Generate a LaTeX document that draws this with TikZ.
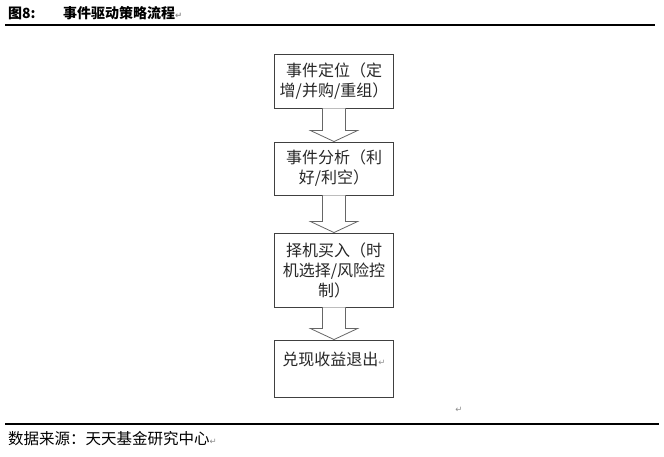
\documentclass[tikz,border=0pt]{standalone}
\usepackage{fontspec}
\newfontfamily\cjk{Noto Sans CJK SC}
\newfontfamily\symb{DejaVu Sans}
\usetikzlibrary{calc}
\newcommand{\retmark}{{\symb\fontsize{8.5}{8.5}\selectfont\textcolor{black!45}{↵}}}
\tikzset{
  stepbox/.style={draw=black!75,line width=0.9pt,minimum width=119,align=center,inner sep=0pt,
    font=\cjk\fontsize{16}{20}\selectfont,text=black!85},
  blockarrow/.style={draw=black!60,line width=0.8pt,fill=white},
  rule/.style={line width=1.1pt},
  caption/.style={anchor=west,inner sep=0pt}
}
\begin{document}
\begin{tikzpicture}[x=1pt,y=1pt]
    \useasboundingbox (0,0) rectangle (664,456);

    \node[caption,font=\cjk\bfseries\fontsize{14}{14}\selectfont] (fig) at (8,443) {图8:};
    \node[caption,font=\cjk\bfseries\fontsize{14}{14}\selectfont] (title) at (63,443) {事件驱动策略流程\retmark};
    \coordinate (tl) at (5,431);
    \coordinate (tr) at (655,431);
    \draw[rule] (tl) -- (tr);

    \node[stepbox,minimum height=54] (dw) at (334,375) {事件定位（定\\增/并购/重组）};
    \node[stepbox,minimum height=53] (fx) at (334,287.5) {事件分析（利\\好/利空）};
    \node[stepbox,minimum height=74] (zs) at (334,186) {择机买入（时\\机选择/风险控\\制）};
    \node[stepbox,minimum height=57] (dx) at (334,87.5) {兑现收益退出\retmark\\\mbox{}};

    \foreach \a/\b in {dw/fx,fx/zs,zs/dx}
        \draw[blockarrow] ($(\a.south)+(-11.5,0)$) -- ($(\b.north)+(-11.5,11)$) -- ($(\b.north)+(-23.5,11)$)
            -- (\b.north) -- ($(\b.north)+(23.5,11)$) -- ($(\b.north)+(11.5,11)$) -- ($(\a.south)+(11.5,0)$);

    \node[inner sep=0pt] (pm) at (459,46) {\retmark};

    \coordinate (bl) at (5,32);
    \coordinate (br) at (659,32);
    \draw[rule] (bl) -- (br);
    \node[caption,font=\cjk\fontsize{15.5}{15.5}\selectfont] (src) at (8,17) {数据来源：天天基金研究中心\retmark};
\end{tikzpicture}
\end{document}
